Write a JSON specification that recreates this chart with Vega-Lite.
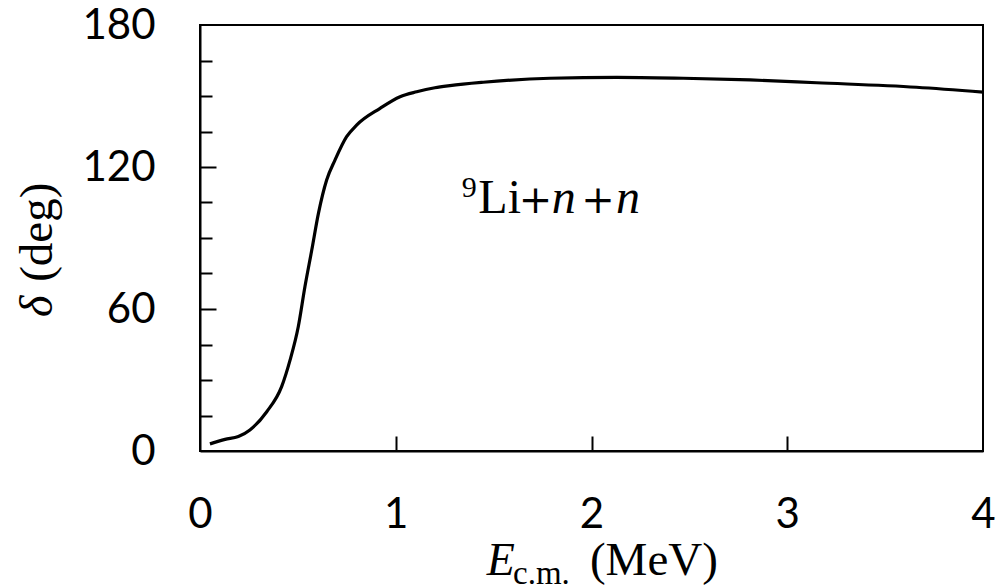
{
  "$schema": "https://vega.github.io/schema/vega-lite/v6.json",
  "autosize": {"type": "none"},
  "width": 783,
  "height": 426,
  "padding": {"left": 200, "top": 25, "right": 14, "bottom": 136},
  "background": "white",
  "config": {
    "view": {"stroke": "black", "strokeWidth": 2},
    "axis": {"grid": false, "domainColor": "black", "domainWidth": 2, "tickColor": "black", "tickWidth": 2, "labelColor": "black", "labelFont": "Lato", "labelFontSize": 42, "labelFlush": false, "labelOverlap": false, "labelBound": false, "title": null}
  },
  "datasets": {
    "curve": [
      {"E": 0.051, "d": 3.0},
      {"E": 0.128, "d": 4.9},
      {"E": 0.196, "d": 6.1},
      {"E": 0.255, "d": 8.9},
      {"E": 0.341, "d": 16.6},
      {"E": 0.417, "d": 27.2},
      {"E": 0.460, "d": 38.4},
      {"E": 0.502, "d": 52.5},
      {"E": 0.536, "d": 69.4},
      {"E": 0.571, "d": 84.9},
      {"E": 0.605, "d": 100.4},
      {"E": 0.647, "d": 114.5},
      {"E": 0.690, "d": 123.0},
      {"E": 0.749, "d": 132.8},
      {"E": 0.800, "d": 137.7},
      {"E": 0.920, "d": 144.8},
      {"E": 1.022, "d": 149.7},
      {"E": 1.107, "d": 151.8},
      {"E": 1.200, "d": 153.5},
      {"E": 1.277, "d": 154.4},
      {"E": 1.447, "d": 155.8},
      {"E": 1.788, "d": 157.5},
      {"E": 2.129, "d": 157.9},
      {"E": 2.469, "d": 157.5},
      {"E": 2.810, "d": 156.8},
      {"E": 3.150, "d": 155.6},
      {"E": 3.660, "d": 153.7},
      {"E": 4.000, "d": 151.6}
    ]
  },
  "layer": [
    {
      "data": {"name": "curve"},
      "mark": {"type": "line", "color": "black", "strokeWidth": 3.2, "interpolate": "monotone"},
      "encoding": {
        "x": {"field": "E", "type": "quantitative", "scale": {"domain": [0, 4], "nice": false, "zero": false},
          "axis": {"orient": "bottom", "values": [0, 1, 2, 3, 4], "ticks": false, "labelPadding": 43, "labelBaseline": "top", "format": "d"}},
        "y": {"field": "d", "type": "quantitative", "scale": {"domain": [0, 180], "nice": false},
          "axis": {"orient": "left", "values": [0, 60, 120, 180], "ticks": false, "labelPadding": 45, "labelBaseline": "middle", "format": "d"}}
      }
    },
    {
      "data": {"values": [{"px": 1.422, "py": 100.4, "t": "Li"}]},
      "mark": {"type": "text", "font": "Liberation Serif", "fontSize": 48, "align": "left", "baseline": "alphabetic", "color": "black"},
      "encoding": {
        "x": {"field": "px", "type": "quantitative", "axis": {"orient": "bottom", "values": [1, 2, 3], "labels": false, "domain": false, "tickSize": -15}},
        "y": {"field": "py", "type": "quantitative", "axis": {"orient": "left", "values": [60, 120], "labels": false, "domain": false, "tickSize": -16}},
        "text": {"field": "t"}
      }
    },
    {
      "data": {"values": [{"px": 1.628, "py": 100.4, "t": "+"}, {"px": 1.948, "py": 100.4, "t": "+"}]},
      "mark": {"type": "text", "font": "DejaVu Serif", "fontSize": 40, "align": "left", "baseline": "alphabetic", "color": "black"},
      "encoding": {
        "x": {"field": "px", "type": "quantitative", "axis": null},
        "y": {"field": "py", "type": "quantitative", "axis": null},
        "text": {"field": "t"}
      }
    },
    {
      "data": {"values": [{"px": 1.797, "py": 100.4, "t": "n"}, {"px": 2.125, "py": 100.4, "t": "n"}]},
      "mark": {"type": "text", "font": "Liberation Serif", "fontSize": 48, "fontStyle": "italic", "align": "left", "baseline": "alphabetic", "color": "black"},
      "encoding": {
        "x": {"field": "px", "type": "quantitative", "axis": null},
        "y": {"field": "py", "type": "quantitative", "axis": {"orient": "left", "values": [15, 30, 45, 75, 90, 105, 135, 150, 165], "labels": false, "domain": false, "tickSize": -12}},
        "text": {"field": "t"}
      }
    },
    {
      "data": {"values": [{"px": 1.337, "py": 107.4, "t": "9"}]},
      "mark": {"type": "text", "font": "Liberation Serif", "fontSize": 30, "align": "left", "baseline": "alphabetic", "color": "black"},
      "encoding": {
        "x": {"field": "px", "type": "quantitative", "axis": null},
        "y": {"field": "py", "type": "quantitative", "axis": null},
        "text": {"field": "t"}
      }
    },
    {
      "data": {"values": [{"px": 1.465, "py": -52.4, "t": "E"}]},
      "mark": {"type": "text", "font": "Liberation Serif", "fontSize": 46, "fontStyle": "italic", "align": "left", "baseline": "alphabetic", "color": "black"},
      "encoding": {
        "x": {"field": "px", "type": "quantitative", "axis": null},
        "y": {"field": "py", "type": "quantitative", "axis": null},
        "text": {"field": "t"}
      }
    },
    {
      "data": {"values": [{"px": 1.599, "py": -56.1, "t": "c.m."}]},
      "mark": {"type": "text", "font": "Liberation Serif", "fontSize": 33, "align": "left", "baseline": "alphabetic", "color": "black"},
      "encoding": {
        "x": {"field": "px", "type": "quantitative", "axis": null},
        "y": {"field": "py", "type": "quantitative", "axis": null},
        "text": {"field": "t"}
      }
    },
    {
      "data": {"values": [{"px": 1.992, "py": -52.4, "t": "(MeV)"}]},
      "mark": {"type": "text", "font": "Liberation Serif", "fontSize": 47, "align": "left", "baseline": "alphabetic", "color": "black"},
      "encoding": {
        "x": {"field": "px", "type": "quantitative", "axis": null},
        "y": {"field": "py", "type": "quantitative", "axis": null},
        "text": {"field": "t"}
      }
    },
    {
      "data": {"values": [{"px": -0.756, "py": 56.6, "t": "δ"}]},
      "mark": {"type": "text", "font": "Liberation Serif", "fontSize": 46, "fontStyle": "italic", "angle": 270, "align": "left", "baseline": "alphabetic", "color": "black"},
      "encoding": {
        "x": {"field": "px", "type": "quantitative", "axis": null},
        "y": {"field": "py", "type": "quantitative", "axis": null},
        "text": {"field": "t"}
      }
    },
    {
      "data": {"values": [{"px": -0.756, "py": 71.5, "t": "(deg)"}]},
      "mark": {"type": "text", "font": "Liberation Serif", "fontSize": 47, "angle": 270, "align": "left", "baseline": "alphabetic", "color": "black"},
      "encoding": {
        "x": {"field": "px", "type": "quantitative", "axis": null},
        "y": {"field": "py", "type": "quantitative", "axis": null},
        "text": {"field": "t"}
      }
    }
  ],
  "resolve": {"axis": {"x": "independent", "y": "independent"}}
}
